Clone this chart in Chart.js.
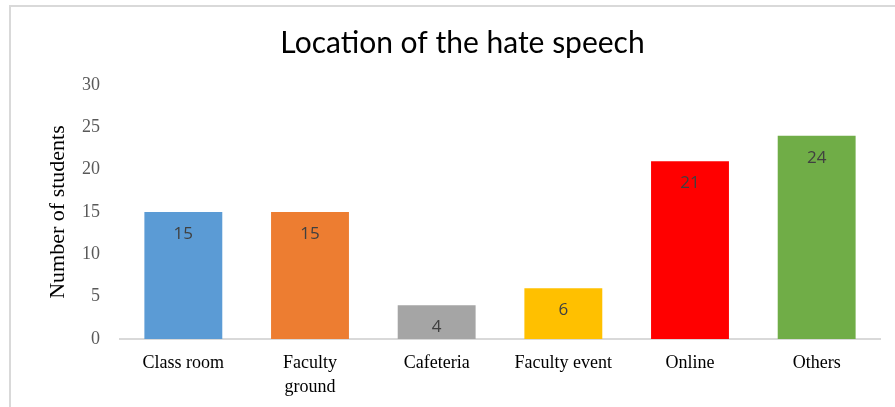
<!DOCTYPE html>
<html>
<head>
<meta charset="utf-8">
<script src="https://cdn.jsdelivr.net/npm/chart.js@4.4.0/dist/chart.umd.min.js"></script>
<style>
  html, body { margin: 0; padding: 0; background: #fff; }
  #frame {
    position: absolute; left: 9px; top: 5px; width: 900px; height: 420px;
    border: 2px solid #d9d9d9; box-sizing: border-box;
  }
  #wrap { position: absolute; left: 0; top: 0; width: 895px; height: 407px; }
</style>
</head>
<body>
<div id="frame"></div>
<div id="wrap"><canvas id="hateChart"></canvas></div>
<script>
// values
const categories = ['Class room', ['Faculty', 'ground'], 'Cafeteria', 'Faculty event', 'Online', 'Others'];
const students = [15, 15, 4, 6, 21, 24];
const barColors = ['#5b9bd5', '#ed7d31', '#a5a5a5', '#ffc000', '#ff0000', '#70ad47'];
const yTicks = [0, 5, 10, 15, 20, 25, 30];

// draws the value inside the top of each bar
const insideLabels = {
    id: 'insideLabels',
    afterDatasetsDraw(chart) {
        const c = chart.ctx;
        const meta = chart.getDatasetMeta(0);
        c.save();
        c.font = '17px "Open Sans", sans-serif';
        c.fillStyle = '#404040';
        c.textAlign = 'center';
        c.textBaseline = 'middle';
        meta.data.forEach((bar, i) => {
            c.fillText(String(students[i]), bar.x, bar.y + 22);
        });
        c.restore();
    }
};

const ctx = document.getElementById('hateChart');
new Chart(ctx, {
    type: 'bar',
    data: {
        labels: categories,
        datasets: [{
            data: students,
            backgroundColor: barColors,
            categoryPercentage: 1.0,
            barPercentage: 0.615
        }]
    },
    options: {
        responsive: true,
        maintainAspectRatio: false,
        animation: false,
        layout: { padding: { left: 45, right: 15, top: 25, bottom: 0 } },
        plugins: {
            legend: { display: false },
            tooltip: { enabled: false },
            title: {
                display: true,
                text: 'Location of the hate speech',
                color: '#000',
                font: { family: 'Lato', size: 30, weight: 'normal' },
                padding: { top: 0, bottom: 24 }
            }
        },
        scales: {
            x: {
                grid: { display: false },
                border: { display: true, color: '#d9d9d9', width: 2 },
                ticks: {
                    color: '#000',
                    font: { family: '"Liberation Serif", serif', size: 18, lineHeight: 1.3 },
                    padding: 5,
                    maxRotation: 0,
                    autoSkip: false
                },
                afterFit(axis) { axis.height = 68; }
            },
            y: {
                min: 0,
                max: 30,
                afterBuildTicks(axis) {
                    axis.ticks = yTicks.map(v => ({ value: v }));
                },
                grid: { display: false },
                border: { display: false },
                ticks: {
                    color: '#595959',
                    font: { family: '"Liberation Serif", serif', size: 18 },
                    padding: 12
                },
                title: {
                    display: true,
                    text: 'Number of students',
                    color: '#000',
                    font: { family: '"Liberation Serif", serif', size: 22 },
                    padding: { top: 0, bottom: 0 }
                },
                afterFit(axis) { axis.width = 75; }
            }
        }
    },
    plugins: [insideLabels]
});
</script>
</body>
</html>
